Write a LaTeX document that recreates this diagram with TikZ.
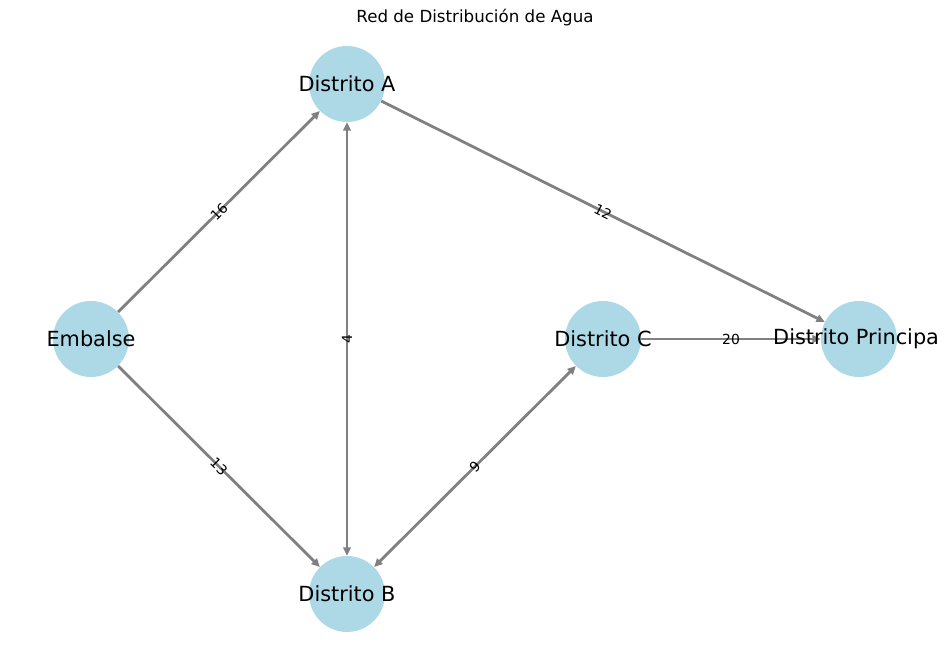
\documentclass[tikz,border=0pt]{standalone}
\usepackage{fontspec}
\setmainfont{DejaVu Sans}
\usetikzlibrary{positioning,calc,arrows.meta}
\definecolor{nodeblue}{RGB}{173,216,230}
\definecolor{edgegray}{RGB}{128,128,128}
\tikzstyle{district} = [circle, fill=nodeblue, draw=none, inner sep=0pt, minimum size=54.7pt]
\tikzstyle{distname} = [font=\fontsize{15}{18}\selectfont, inner sep=0pt]
\tikzstyle{flow} = [-{Triangle[length=6pt,width=5.5pt]}, draw=edgegray, line width=2pt]
\tikzstyle{both} = [{Triangle[length=6pt,width=5.5pt]}-{Triangle[length=6pt,width=5.5pt]}, draw=edgegray, line width=2pt]
\tikzstyle{flowlabel} = [font=\fontsize{10}{12}\selectfont, inner sep=0pt, text=black]

\begin{document}
\begin{tikzpicture}[x=0.72pt, y=-0.72pt]
	\useasboundingbox (0,0) rectangle (950,657);
	\node (title) at (475,18) {\fontsize{12}{14}\selectfont Red de Distribución de Agua};
	\node (emb) [district] at (91,339) {};
	\node (da) [district] at (347,84) {};
	\node (db) [district] at (347,594) {};
	\node (dc) [district] at (603,339) {};
	\node (dp) [district] at (859,339) {};
	\draw [flow] (emb) -- node[flowlabel, rotate=45] {16} (da);
	\draw [flow] (emb) -- node[flowlabel, rotate=-45] {13} (db);
	\draw [flow] (da) -- node[flowlabel, rotate=-26.5] {12} (dp);
	\draw [both] (db) -- node[flowlabel, rotate=90] {4} (da);
	\draw [both] (db) -- node[flowlabel, rotate=45] {9} (dc);
	\draw [flow] (dc) -- node[flowlabel] {20} (dp);
	% names on top, cut at the plot edge
	\begin{scope}
		\clip (0,0) rectangle (938,657);
		\foreach \n/\t in {emb/Embalse, da/Distrito A, db/Distrito B, dc/Distrito C, dp/Distrito Principal}
			\node [distname] at (\n) {\t};
	\end{scope}
\end{tikzpicture}
\end{document}
